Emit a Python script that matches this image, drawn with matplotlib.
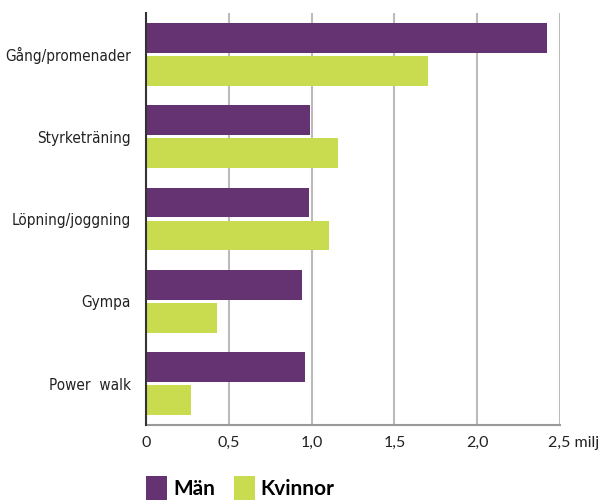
import matplotlib
matplotlib.use('Agg')
import matplotlib.pyplot as plt
import matplotlib.transforms as mtransforms
import numpy as np

# Data (miljoner)
activities = ['Gång/promenader', 'Styrketräning', 'Löpning/joggning', 'Gympa', 'Power  walk']
man = [2.42, 0.99, 0.985, 0.94, 0.96]
kvinnor = [1.70, 1.16, 1.105, 0.43, 0.27]
xticks = [0, 0.5, 1.0, 1.5, 2.0, 2.5]
xticklabels = ['0', '0,5', '1,0', '1,5', '2,0', '2,5 milj']

purple = '#663372'
green = '#c9dc50'

fig = plt.figure(figsize=(6, 5), dpi=100)
ax = fig.add_axes([146/600, 75/500, 414/600, 412/500])

y = np.arange(len(activities))
h = 0.36
b1 = ax.barh(y - 0.2, man, height=h, color=purple, label='Män', zorder=3)
b2 = ax.barh(y + 0.2, kvinnor, height=h, color=green, label='Kvinnor', zorder=3)

ax.set_ylim(len(activities) - 0.5, -0.5)
ax.set_xlim(0, 2.5)

ax.set_yticks(y)
ax.set_yticklabels(activities, fontsize=11, family='DejaVu Sans', fontstretch='condensed',
                   color='#222222')
ax.tick_params(axis='y', length=0, pad=11)

ax.set_xticks(xticks)
labs = ax.set_xticklabels(xticklabels, fontsize=11.5, family='Lato', color='#222222')
ax.tick_params(axis='x', length=0, pad=8)
labs[-1].set_horizontalalignment('left')
labs[-1].set_transform(labs[-1].get_transform() + mtransforms.ScaledTranslation(-12/100, 0, fig.dpi_scale_trans))

ax.grid(axis='x', color='#bbbbbb', linewidth=1.5, zorder=0)
ax.spines['top'].set_visible(False)
ax.spines['right'].set_visible(False)
ax.spines['left'].set_color('#333333')
ax.spines['left'].set_linewidth(1.5)
ax.spines['left'].set_zorder(4)
ax.spines['bottom'].set_color('#999999')
ax.spines['bottom'].set_linewidth(1.5)

fig.legend(handles=[b1, b2], loc='upper left', bbox_to_anchor=(146/600, 1 - 476/500),
           frameon=False, ncol=2, handlelength=1.0, handleheight=1.4,
           handletextpad=0.3, columnspacing=0.9, borderaxespad=0, borderpad=0,
           prop={'family': 'Lato', 'weight': 'bold', 'size': 15})

fig.savefig('out.png', dpi=100)
